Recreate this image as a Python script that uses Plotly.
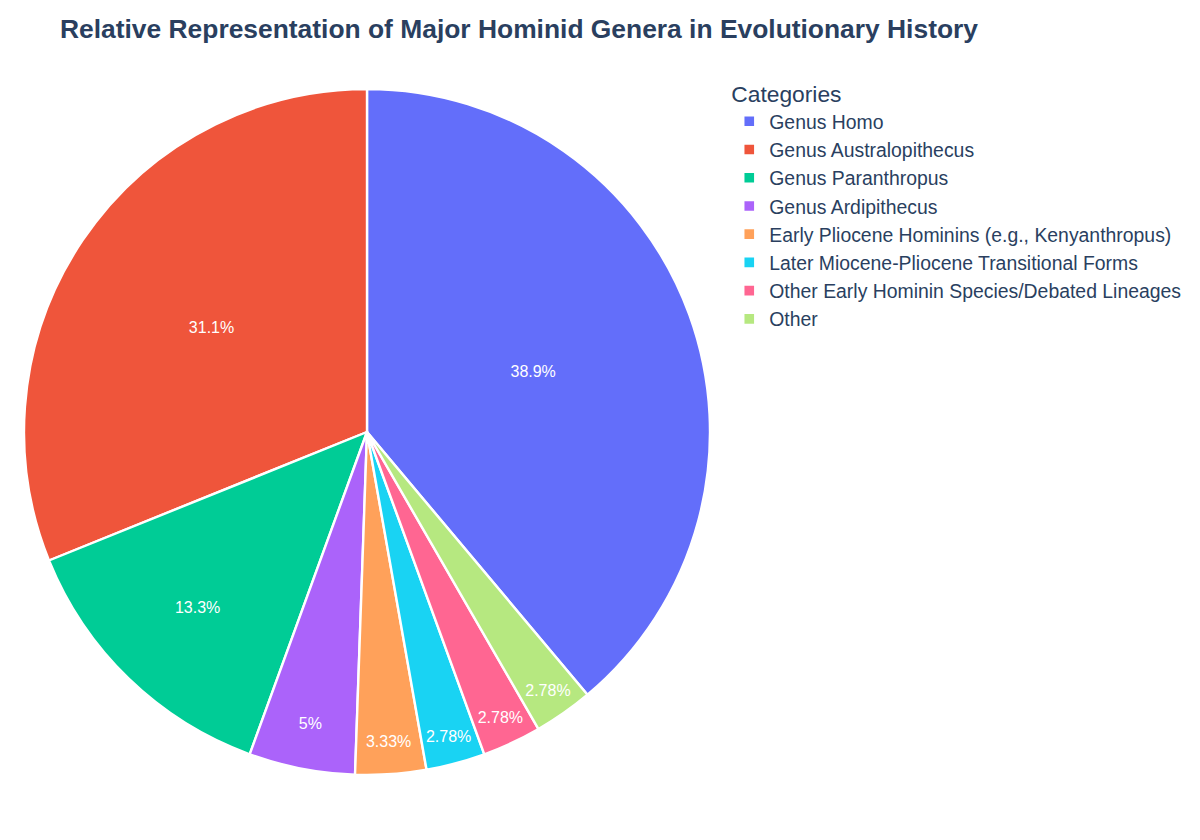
import plotly.graph_objects as go

categories = [
    "Genus Homo",
    "Genus Australopithecus",
    "Genus Paranthropus",
    "Genus Ardipithecus",
    "Early Pliocene Hominins (e.g., Kenyanthropus)",
    "Later Miocene-Pliocene Transitional Forms",
    "Other Early Hominin Species/Debated Lineages",
    "Other",
]
values = [70, 56, 24, 9, 6, 5, 5, 5]
colors = ["#636EFA", "#EF553B", "#00CC96", "#AB63FA", "#FFA15A", "#19D3F3", "#FF6692", "#B6E880"]

fig = go.Figure(go.Pie(
    labels=categories,
    values=values,
    marker=dict(colors=colors, line=dict(color="white", width=2.4)),
    textinfo="percent",
    textfont=dict(size=16, color="white"),
    sort=False,
    direction="counterclockwise",
    rotation=0,
))

fig.update_layout(
    title=dict(text="<b>Relative Representation of Major Hominid Genera in Evolutionary History</b>",
               x=0.05, y=0.977, yanchor="top", font=dict(size=26.4, color="#2a3f5f", family="Arial")),
    font=dict(family="Arial", color="#2a3f5f"),
    legend=dict(title=dict(text="Categories", font=dict(size=22.8)), font=dict(size=19.4),
                x=1.022, xanchor="left", y=1.024, yanchor="top"),
    margin=dict(l=20, r=486, t=89, b=65),
    width=1200, height=840,
    paper_bgcolor="white",
)

fig.write_html("out.html")
